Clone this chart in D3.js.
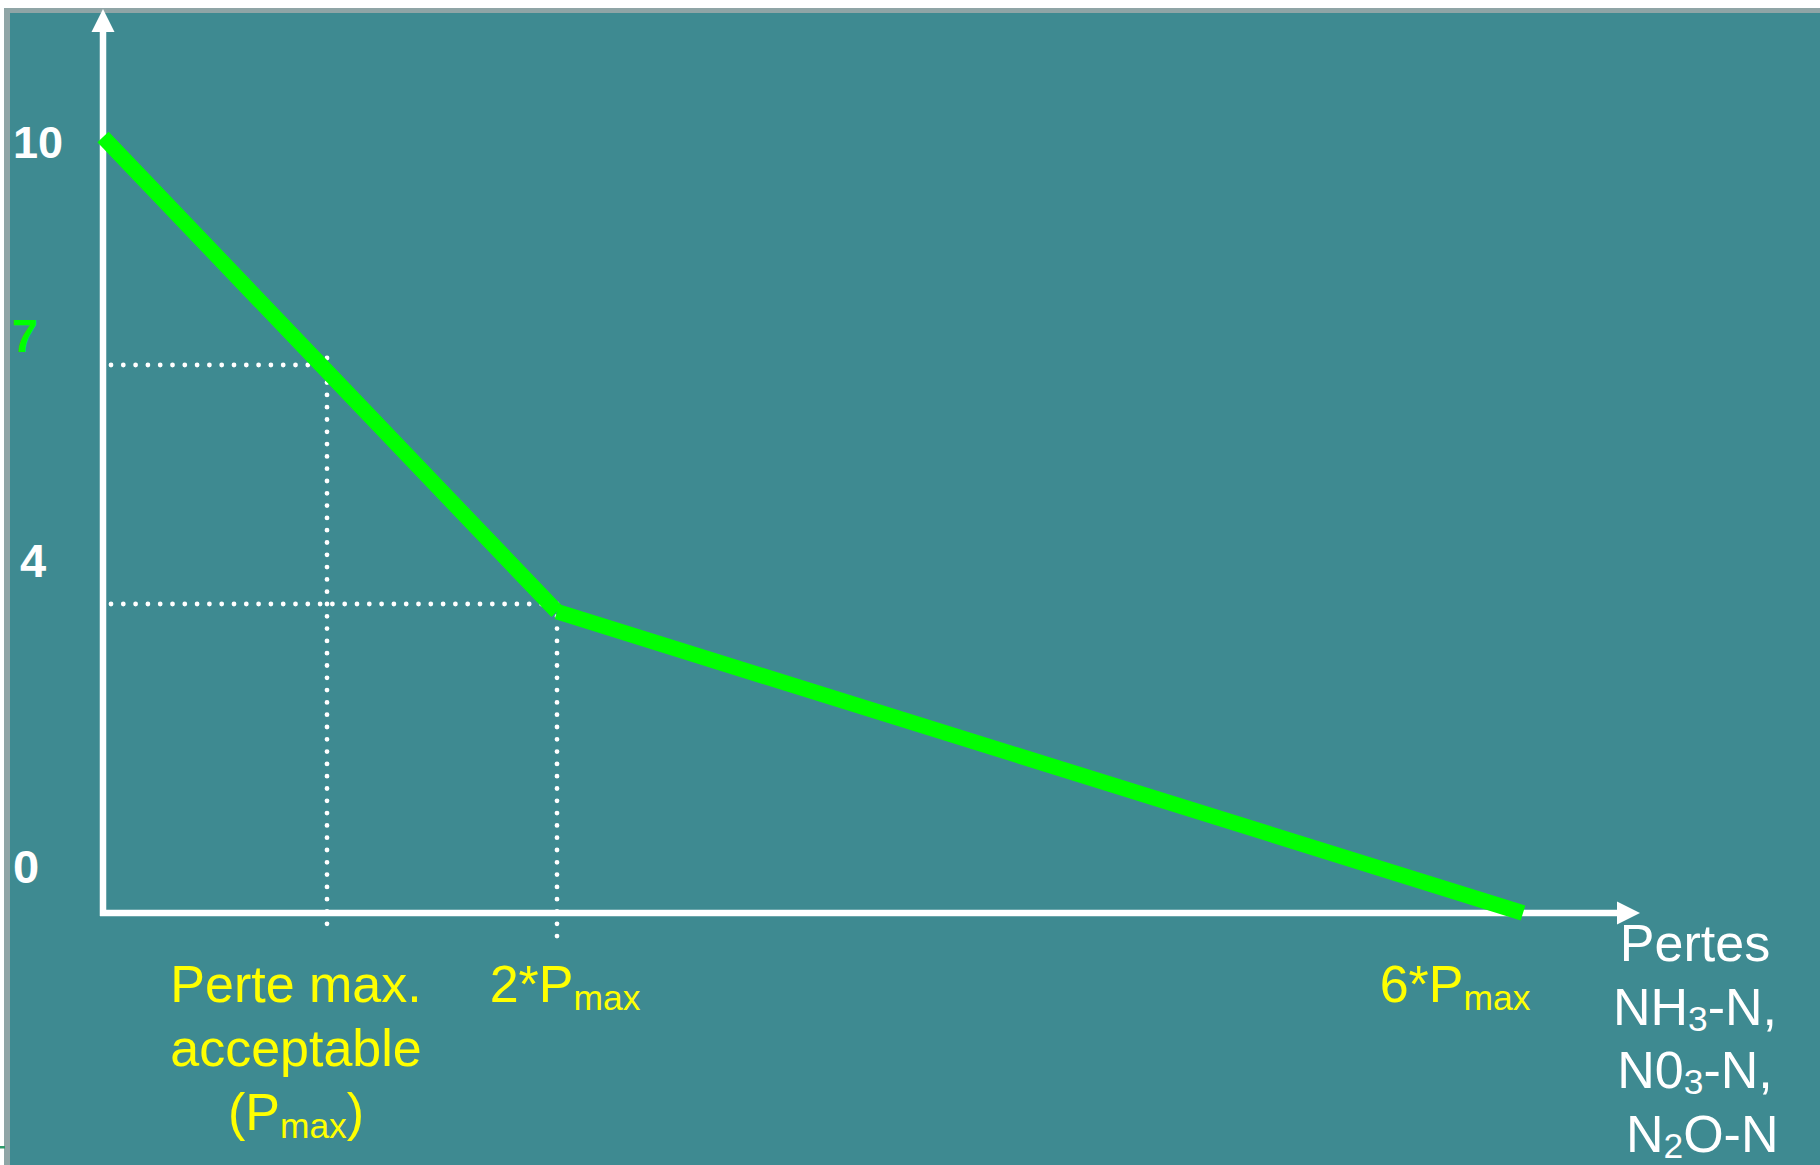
<!DOCTYPE html>
<html>
<head>
<meta charset="utf-8">
<script src="https://cdn.jsdelivr.net/npm/d3@7"></script>
<style>
  html, body { margin: 0; padding: 0; background: #ffffff; }
  svg { display: block; }
  text { font-family: "Liberation Sans", Arial, sans-serif; white-space: pre; }
</style>
</head>
<body>
<script>
// ---- data ----
const curveX = [0, 2, 6];          // pertes in units of Pmax
const curveY = [10, 3.9, 0];       // note
const yTickValues = [10, 7, 4, 0];
const yTickColors = ["#ffffff", "#00ff00", "#ffffff", "#ffffff"];
const guideX = [1, 2];             // Pmax, 2*Pmax
const guideY = [7, 4];
const xLabels = [
  { at: 1, lines: [[["Perte max.", 0]], [["acceptable", 0]], [["(P", 0], ["max", 1], [")", 0]]] },
  { at: 2, lines: [[["2*P", 0], ["max", 1]]] },
  { at: 6, lines: [[["6*P", 0], ["max", 1]]] }
];
const axisTitleLines = [
  [["Pertes", 0]],
  [["NH", 0], ["3", 1], ["-N,", 0]],
  [["N0", 0], ["3", 1], ["-N,", 0]],
  [[" N", 0], ["2", 1], ["O-N", 0]]
];

const W = 1820, H = 1165;
const svg = d3.select("body").append("svg").attr("width", W).attr("height", H);

// frame
svg.append("rect").attr("x", 4).attr("y", 8).attr("width", W - 4).attr("height", H - 8).attr("fill", "#8fa5a6");
svg.append("rect").attr("x", 10).attr("y", 13).attr("width", W - 10).attr("height", H - 13).attr("fill", "#3e8a91");
svg.append("rect").attr("x", 0).attr("y", 1146).attr("width", 5).attr("height", 2.5).attr("fill", "#2e9a6a");

// scales (schematic, piecewise linear)
const x = d3.scaleLinear().domain([0, 1, 2, 6]).range([103, 327, 557, 1523]);
const y = d3.scaleLinear().domain([0, 4, 7, 10]).range([913, 604, 365, 137]);

// dotted guides
const dot = sel => sel.attr("stroke", "#ffffff").attr("stroke-width", 4.8)
  .attr("stroke-linecap", "round").attr("stroke-dasharray", "0 12.3").attr("fill", "none");
guideY.forEach((v, i) => {
  svg.append("line").attr("x1", x(0) + 8).attr("x2", x(guideX[i]) + 1)
    .attr("y1", y(v)).attr("y2", y(v)).call(dot);
});
guideX.forEach((v, i) => {
  svg.append("line").attr("x1", x(v)).attr("x2", x(v))
    .attr("y1", y(guideY[i]) - (i === 0 ? 7 : 0)).attr("y2", y(0) + (i === 0 ? 11 : 33)).call(dot);
});

// axes
const axisColor = "#ffffff";
svg.append("line").attr("x1", x(0)).attr("x2", x(0)).attr("y1", 30).attr("y2", y(0) + 3)
  .attr("stroke", axisColor).attr("stroke-width", 6.5);
svg.append("line").attr("x1", x(0) - 3).attr("x2", 1620).attr("y1", y(0)).attr("y2", y(0))
  .attr("stroke", axisColor).attr("stroke-width", 6.5);
svg.append("path").attr("d", `M${x(0)},9 L${x(0) + 11.5},32 L${x(0) - 11.5},32 Z`).attr("fill", axisColor);
svg.append("path").attr("d", `M1640,${y(0)} L1617,${y(0) - 11.5} L1617,${y(0) + 11.5} Z`).attr("fill", axisColor);

// green curve: separate segments with butt caps
const pts = curveX.map((v, i) => [x(v), y(curveY[i])]);
for (let i = 0; i < pts.length - 1; i++) {
  svg.append("path").attr("d", d3.line()([pts[i], pts[i + 1]]))
    .attr("stroke", "#00ff00").attr("stroke-width", 15.5).attr("stroke-linecap", "butt").attr("fill", "none");
}

// y tick labels
const yLabelDy = { 10: 21, 7: -13, 4: -27, 0: -30 };
const yLabelSize = { 10: 45, 7: 47, 4: 47, 0: 47 };
const yLabelX = { 10: 13, 7: 12, 4: 20, 0: 13 };
yTickValues.forEach((v, i) => {
  svg.append("text").attr("x", yLabelX[v]).attr("y", y(v) + yLabelDy[v])
    .attr("fill", yTickColors[i]).attr("font-weight", "bold").attr("font-size", yLabelSize[v]).text(v);
});

// rich text helper
function richLines(g, cx, baseY, lines, size, color, lh, subDy) {
  lines.forEach((parts, li) => {
    const t = g.append("text").attr("x", cx).attr("y", baseY + li * lh)
      .attr("text-anchor", "middle").attr("fill", color).attr("font-size", size);
    let sub = false;
    parts.forEach(([s, isSub]) => {
      const ts = t.append("tspan").text(s);
      if (isSub && !sub) { ts.attr("dy", subDy).attr("font-size", size * 0.68); sub = true; }
      else if (!isSub && sub) { ts.attr("dy", -subDy); sub = false; }
    });
  });
}

const xLabelDx = { 1: -31, 2: 8, 6: -68 };
xLabels.forEach(l => {
  richLines(svg, x(l.at) + xLabelDx[l.at], 1002, l.lines, 52, "#ffff00", 64, 8);
});
richLines(svg, 1695, 961, axisTitleLines, 52, "#ffffff", 63.5, 6);
</script>
</body>
</html>
